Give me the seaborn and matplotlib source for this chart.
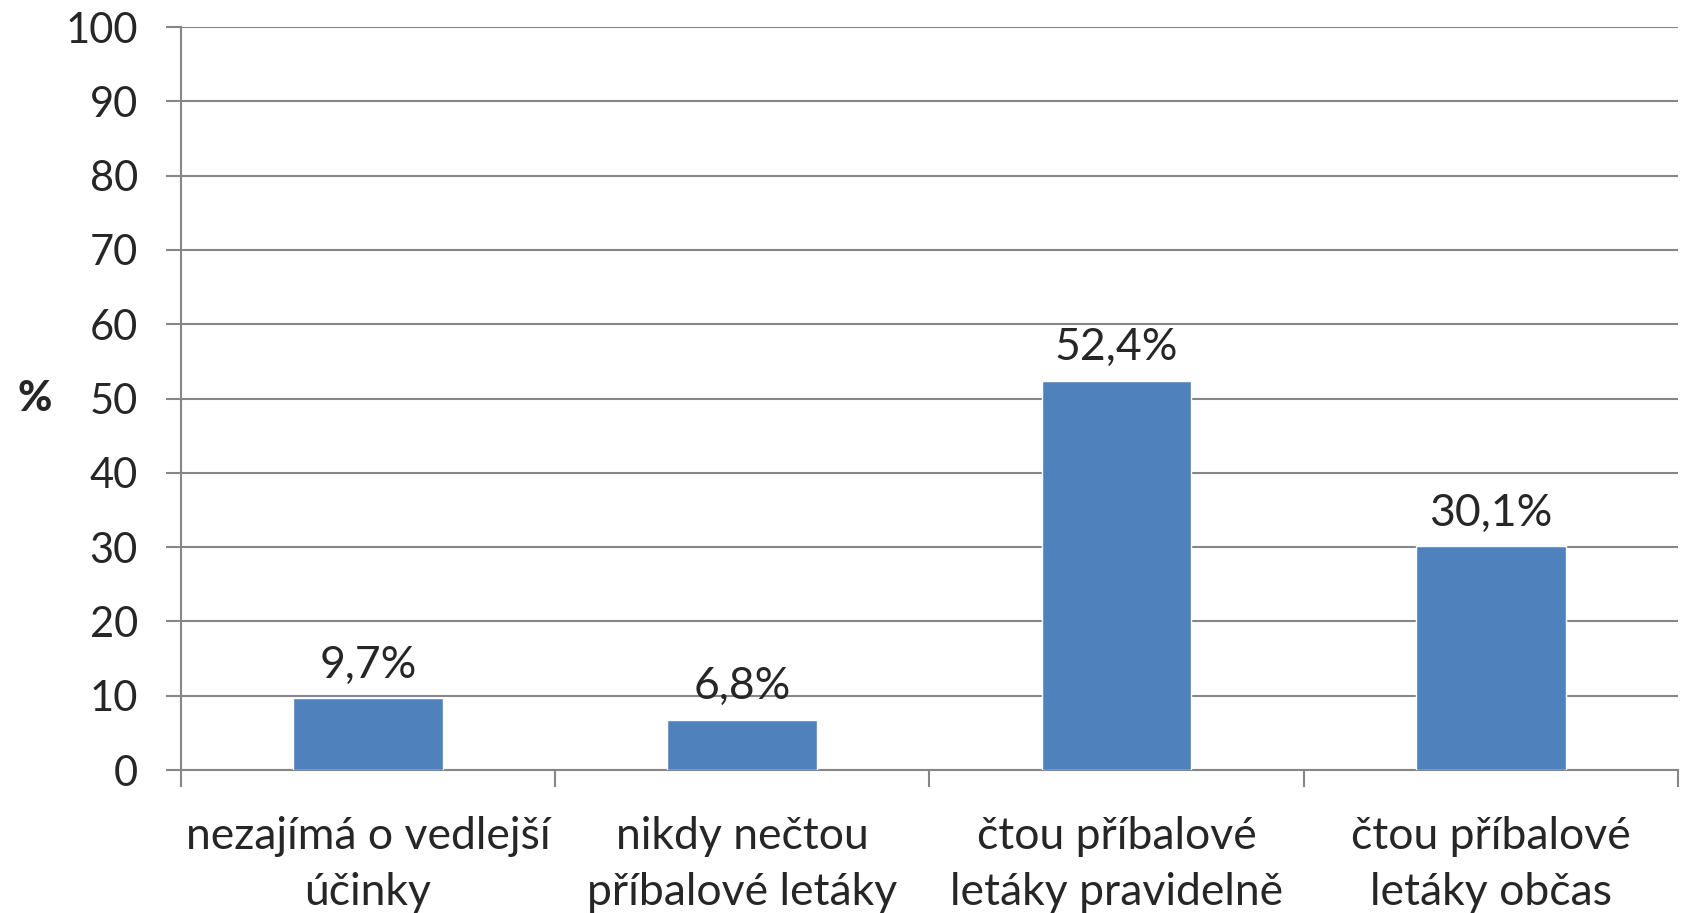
import matplotlib
matplotlib.use("Agg")
import matplotlib.pyplot as plt
import seaborn as sns
import pandas as pd

# data
categories = [
    "nezajímá o vedlejší\núčinky",
    "nikdy nečtou\npříbalové letáky",
    "čtou příbalové\nletáky pravidelně",
    "čtou příbalové\nletáky občas",
]
values = [9.7, 6.8, 52.4, 30.1]
value_labels = ["9,7%", "6,8%", "52,4%", "30,1%"]
y_ticks = [0, 10, 20, 30, 40, 50, 60, 70, 80, 90, 100]

df = pd.DataFrame({"kategorie": categories, "procenta": values})

sns.set_style("white")
plt.rcParams["font.family"] = ["Lato", "DejaVu Sans"]

grey = "#868686"
fig = plt.figure(figsize=(16.83, 9.13), dpi=100)
ax = fig.add_axes([0.1075, 0.1566, 0.8895, 0.8138])

sns.barplot(data=df, x="kategorie", y="procenta", color="#4F81BD",
            width=0.4, saturation=1, ax=ax, zorder=3)

ax.set_ylim(0, 100)
ax.set_xlim(-0.5, 3.5)
ax.set_yticks(y_ticks)
ax.yaxis.grid(True, color=grey, linewidth=1.5, zorder=0)
ax.set_axisbelow(True)

for side in ["top", "right"]:
    ax.spines[side].set_visible(False)
for side in ["left", "bottom"]:
    ax.spines[side].set_color(grey)
    ax.spines[side].set_linewidth(1.5)

ax.tick_params(axis="y", length=11, width=1.5, color=grey, labelsize=30,
               pad=20, direction="out", left=True)
ax.tick_params(axis="x", which="major", length=0, labelsize=32, pad=33)
ax.set_xticks([-0.5, 0.5, 1.5, 2.5, 3.5], minor=True)
ax.tick_params(axis="x", which="minor", length=12, width=1.5, color=grey,
               direction="out", bottom=True)
for lab in ax.get_xticklabels():
    lab.set_linespacing(1.45)

ax.set_xlabel("")
ax.set_ylabel("%", fontsize=30, fontweight="black", rotation=0,
              ha="center", va="center")
ax.yaxis.set_label_coords(-0.098, 0.5)

for i, (v, t) in enumerate(zip(values, value_labels)):
    ax.annotate(t, (i, v), xytext=(0, 9), textcoords="offset points",
                ha="center", va="bottom", fontsize=32)

fig.savefig("out.png", dpi=100)
